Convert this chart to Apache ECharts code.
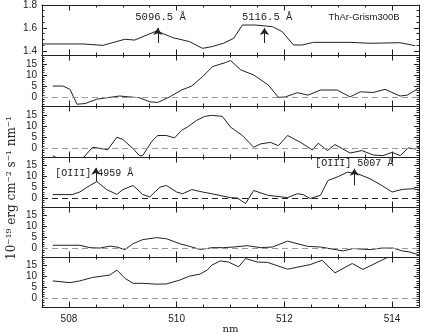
<!DOCTYPE html>
<html lang="en">
<head>
<meta charset="UTF-8">
<title>ThAr-Grism300B spectra</title>
<script src="https://cdn.jsdelivr.net/npm/echarts@6/dist/echarts.min.js"></script>
<style>
  html, body { margin: 0; padding: 0; background: #fff; }
  #chart { width: 423px; height: 332px; }
</style>
</head>
<body>
<div id="chart"></div>
<script>
  // ---- data: wavelength (nm) and flux per panel ----
  const wlArc = [507.51, 508.26, 508.63, 509.04, 509.22, 509.63, 509.93, 510.24, 510.48, 510.65, 510.87, 511.06,
    511.22, 511.46, 511.78, 511.96, 512.17, 512.33, 512.54, 513.22, 513.59, 514.15, 514.43];
  const fluxArc = [1.461, 1.461, 1.449, 1.502, 1.495, 1.574, 1.516, 1.481, 1.423, 1.437, 1.467, 1.510,
    1.626, 1.626, 1.611, 1.568, 1.452, 1.452, 1.475, 1.475, 1.467, 1.472, 1.446];

  const wlA = [507.70, 507.89, 508.02, 508.15, 508.30, 508.52, 508.76, 508.94, 509.31, 509.50, 509.65, 509.87,
    510.09, 510.28, 510.48, 510.67, 510.91, 511.00, 511.19, 511.43, 511.70, 511.89, 512.02, 512.24, 512.44,
    512.67, 512.98, 513.22, 513.41, 513.65, 513.87, 514.15, 514.28, 514.46];
  const fluxA = [5.0, 5.0, 3.5, -3.2, -2.9, -0.9, -0.1, 0.5, -0.3, -2.1, -2.4, 0.1,
    3.2, 5.0, 9.2, 13.8, 15.6, 16.5, 12.3, 10.0, 5.5, -0.1, 0.1, 2.0, 0.9,
    3.2, 3.2, 0.1, 2.4, 2.1, 3.5, 0.5, 0.9, 3.5];

  const wlB = [507.70, 507.93, 508.26, 508.44, 508.57, 508.72, 508.89, 509.00, 509.19, 509.31, 509.37, 509.54,
    509.65, 509.81, 509.96, 510.09, 510.20, 510.37, 510.52, 510.65, 510.85, 511.00, 511.22, 511.43, 511.56,
    511.74, 511.89, 512.06, 512.30, 512.52, 512.63, 512.80, 512.94, 513.22, 513.44, 513.65, 513.83, 514.00,
    514.15, 514.30, 514.43, 514.52];
  const fluxB = [-3.4, -6.6, -4.5, 0.4, -0.1, -0.7, 4.9, 3.9, -0.2, -3.4, -3.4, 3.1,
    5.7, 5.7, 4.6, 8.0, 9.5, 12.5, 14.3, 14.8, 14.3, 9.5, 5.7, 0.4, 1.9,
    2.6, 1.1, 5.7, 2.6, -0.8, 2.2, -1.1, 1.6, -2.2, -1.1, -3.1, -3.4, -1.9,
    -3.4, 0.1, -0.4, 0.8];

  const wlC = [507.70, 508.06, 508.20, 508.39, 508.52, 508.70, 508.89, 509.00, 509.19, 509.37, 509.50, 509.69,
    509.81, 510.00, 510.11, 510.28, 510.48, 510.65, 511.00, 511.13, 511.28, 511.43, 511.69, 512.06, 512.24,
    512.35, 512.48, 512.67, 512.81, 513.00, 513.17, 513.37, 513.59, 513.81, 514.00, 514.19, 514.39, 514.52];
  const fluxC = [1.7, 1.7, 2.9, 5.9, 7.7, 4.0, 1.8, 4.0, 5.9, 1.8, 0.6, 5.1,
    5.9, 2.9, 2.1, 4.0, 2.9, 2.1, 0.3, 0.1, -2.4, 3.6, 1.4, 0.3, 2.1,
    1.7, -0.1, 1.4, 8.2, 10.0, 12.0, 11.2, 9.0, 5.9, 2.9, 4.1, 4.4, 3.6];

  const wlD = [507.70, 508.20, 508.39, 508.57, 508.76, 508.89, 509.04, 509.19, 509.37, 509.63, 509.81, 510.06,
    510.24, 510.43, 510.57, 510.65, 510.87, 511.06, 511.31, 511.56, 511.78, 512.06, 512.43, 512.67, 513.09,
    513.28, 513.59, 513.81, 514.02, 514.19, 514.33, 514.52];
  const fluxD = [1.4, 1.4, 0.3, 0.1, 1.0, 0.6, -0.6, 2.1, 4.0, 4.9, 4.4, 2.1,
    0.9, -0.5, -0.1, 0.3, 0.3, 0.6, 1.2, 0.3, 0.6, 3.3, 0.9, 0.6, -1.2,
    -0.1, -0.6, 0.1, 0.1, -1.2, -1.7, -3.2];

  const wlE = [507.70, 508.02, 508.20, 508.44, 508.76, 508.89, 509.04, 509.19, 509.37, 509.63, 509.81, 510.06,
    510.24, 510.43, 510.57, 510.65, 510.81, 510.96, 511.15, 511.28, 511.50, 511.69, 512.06, 512.48, 512.70,
    512.94, 513.26, 513.46, 513.74, 513.93];
  const fluxE = [8.0, 7.2, 8.0, 9.6, 10.7, 13.0, 9.2, 6.9, 6.9, 6.5, 6.6, 8.4,
    10.2, 11.1, 13.0, 15.2, 17.2, 16.7, 14.5, 18.3, 16.7, 16.5, 13.4, 15.5, 17.5,
    11.7, 16.0, 13.3, 16.7, 19.0];

  // ---- axes ----
  const xMin = 507.5, xMax = 514.5;
  const xMajor = [508, 510, 512, 514];
  const yTicksArc = [1.4, 1.6, 1.8];
  const yMinorArc = [1.4, 1.45, 1.5, 1.55, 1.6, 1.65, 1.7, 1.75, 1.8];
  const yTicks = [0, 5, 10, 15];

  // ---- annotations ----
  const arcLines = ['5096.5 Å', '5116.5 Å'];
  const arcLineWl = [509.65, 511.63];
  const oiiiLines = ['[OIII] 4959 Å', '[OIII] 5007 Å'];
  const oiiiLineWl = [508.5, 513.3];

  const panels = [
    { wl: wlArc, flux: fluxArc, min: 1.365, max: 1.8, zero: null },
    { wl: wlA, flux: fluxA, min: -4, max: 19, zero: '#9a9a9a' },
    { wl: wlB, flux: fluxB, min: -4, max: 19, zero: '#9a9a9a' },
    { wl: wlC, flux: fluxC, min: -4, max: 19, zero: '#222' },
    { wl: wlD, flux: fluxD, min: -4, max: 19, zero: '#9a9a9a' },
    { wl: wlE, flux: fluxE, min: -4, max: 19, zero: '#9a9a9a' }
  ];
  const tops = [5, 55, 106, 157, 207, 257];
  const heights = [50, 51, 51, 50, 50, 50];

  const ink = '#222';
  const sans = 'Liberation Sans';
  const mono = 'Liberation Mono';

  const grid = [], xAxis = [], yAxis = [], series = [];

  panels.forEach(function (p, i) {
    grid.push({ left: 42, right: 4, top: tops[i], height: heights[i], outerBoundsMode: 'none', containLabel: false });
    const last = i === panels.length - 1;
    ['bottom', 'top'].forEach(function (pos) {
      xAxis.push({
        gridIndex: i, type: 'value', position: pos, min: xMin, max: xMax, interval: 0.5,
        axisLine: { show: true, onZero: false, lineStyle: { color: ink, width: 1 } },
        axisTick: { show: true, inside: true, length: 2.5, lineStyle: { color: ink } },
        axisLabel: { show: false }, splitLine: { show: false }
      });
      xAxis.push({
        gridIndex: i, type: 'value', position: pos, min: xMin, max: xMax,
        axisLine: { show: false, onZero: false },
        axisTick: { show: true, inside: true, length: 5.5, customValues: xMajor, lineStyle: { color: ink } },
        axisLabel: {
          show: last && pos === 'bottom', customValues: xMajor, margin: 7,
          color: ink, fontFamily: sans, fontSize: 10
        },
        splitLine: { show: false },
        name: last && pos === 'bottom' ? 'nm' : '',
        nameLocation: 'middle', nameGap: 16,
        nameTextStyle: { color: ink, fontFamily: 'DejaVu Serif', fontSize: 10 }
      });
    });
    const major = i === 0 ? yTicksArc : yTicks;
    ['left', 'right'].forEach(function (pos) {
      yAxis.push({
        gridIndex: i, type: 'value', position: pos, min: p.min, max: p.max,
        axisLine: { show: true, onZero: false, lineStyle: { color: ink, width: 1 } },
        axisTick: { show: true, inside: true, length: 5, customValues: major, lineStyle: { color: ink } },
        axisLabel: {
          show: pos === 'left', customValues: major, margin: 5, hideOverlap: false,
          color: ink, fontFamily: sans, fontSize: 10
        },
        splitLine: { show: false }
      });
      const minorAxis = {
        gridIndex: i, type: 'value', position: pos, min: p.min, max: p.max,
        axisLine: { show: false, onZero: false },
        axisTick: { show: true, inside: true, length: 2.5, lineStyle: { color: ink } },
        axisLabel: { show: false }, splitLine: { show: false }
      };
      if (i === 0) minorAxis.axisTick.customValues = yMinorArc;
      else minorAxis.interval = 1;
      yAxis.push(minorAxis);
    });

    const s = {
      type: 'line', xAxisIndex: 4 * i, yAxisIndex: 4 * i,
      data: p.wl.map(function (w, k) { return [w, p.flux[k]]; }),
      showSymbol: false, silent: true, clip: true,
      lineStyle: { color: ink, width: 1 }
    };
    const lines = [];
    if (p.zero) {
      lines.push({ yAxis: 0, lineStyle: { color: p.zero, type: [6, 4], width: 1 } });
    }
    const points = [];
    const textLabel = function (x, y, text, font, size) {
      return {
        coord: [x, y], value: 0,
        label: { show: true, position: 'inside', formatter: text, color: ink, fontFamily: font, fontSize: size }
      };
    };
    const arrow = function (x, y0, y1) {
      return [
        { coord: [x, y0], symbol: 'none', lineStyle: { color: ink, type: 'solid', width: 1 } },
        { coord: [x, y1], symbol: 'arrow', symbolSize: 7 }
      ];
    };
    if (i === 0) {
      arcLineWl.forEach(function (w, k) {
        lines.push(arrow(w, 1.47, 1.60));
        points.push(textLabel(w + 0.05, 1.696, arcLines[k], mono, 10.5));
      });
      points.push(textLabel(513.48, 1.696, 'ThAr-Grism300B', sans, 9.5));
    }
    if (i === 3) {
      lines.push(arrow(oiiiLineWl[0], 7.7, 14));
      lines.push(arrow(oiiiLineWl[1], 5.9, 13.6));
      points.push(textLabel(oiiiLineWl[0] - 0.03, 11.4, oiiiLines[0], mono, 10));
      points.push(textLabel(oiiiLineWl[1], 15.9, oiiiLines[1], mono, 10));
    }
    if (lines.length) {
      s.markLine = {
        silent: true, symbol: ['none', 'none'], label: { show: false },
        animation: false, data: lines
      };
    }
    if (points.length) {
      s.markPoint = {
        silent: true, symbol: 'rect', symbolSize: 1,
        itemStyle: { color: 'rgba(0,0,0,0)' }, animation: false, data: points
      };
    }
    series.push(s);
  });

  const myChart = echarts.init(document.getElementById('chart'), null, { renderer: 'canvas' });
  myChart.setOption({
    animation: false,
    backgroundColor: '#fff',
    grid: grid,
    xAxis: xAxis,
    yAxis: yAxis,
    series: series,
    graphic: [{
      type: 'text', x: 12, y: 188, rotation: Math.PI / 2,
      style: {
        text: '10⁻¹⁹ erg cm⁻² s⁻¹ nm⁻¹', fill: ink,
        font: '12px "DejaVu Serif"', align: 'center', verticalAlign: 'middle'
      }
    }]
  });
</script>
</body>
</html>
